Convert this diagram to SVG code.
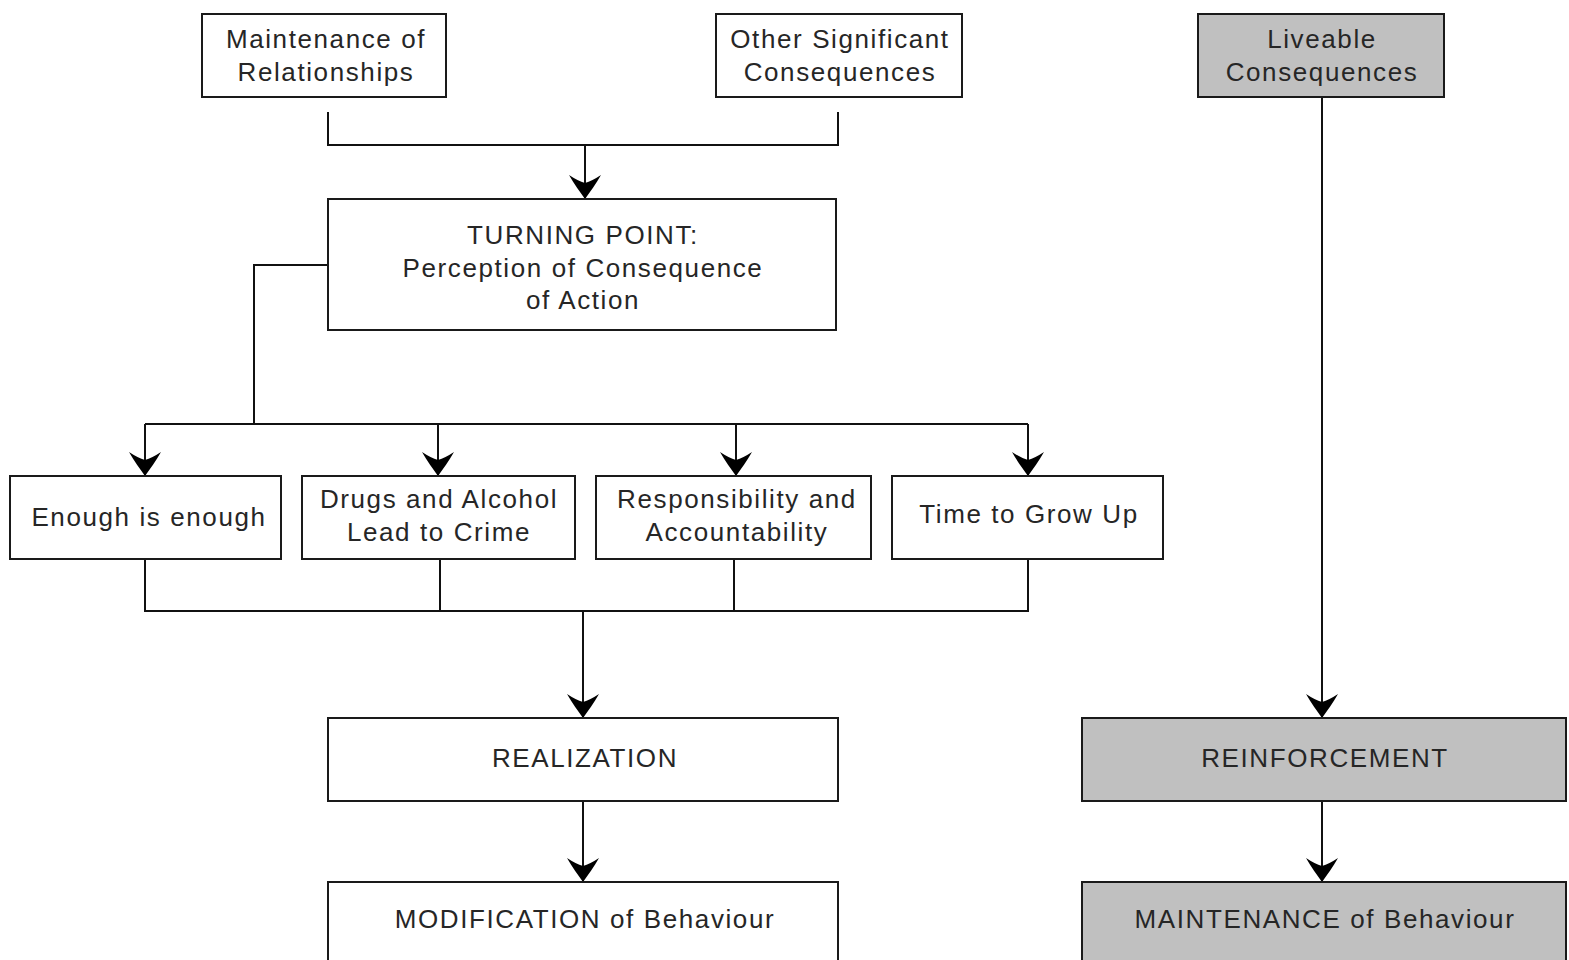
<svg xmlns="http://www.w3.org/2000/svg" width="1569" height="960" viewBox="0 0 1569 960">
<defs>
<style>
.box{fill:#fff;stroke:#1a1a1a;stroke-width:2}
.gray{fill:#c0c0c0}
.t{font-family:"Liberation Sans",Arial,sans-serif;font-size:26px;fill:#262626;text-anchor:middle;letter-spacing:1.6px}
.c{fill:none;stroke:#111;stroke-width:2}
</style>
<marker id="ah" markerUnits="userSpaceOnUse" markerWidth="26" markerHeight="36" viewBox="0 -18 26 36" refX="24" refY="0" orient="auto">
<path d="M24,0 C17,-5 9,-11 0,-16 Q6,-7 8,0 Q6,7 0,16 C9,11 17,5 24,0 Z" fill="#000"/>
</marker>
</defs>
<rect width="1569" height="960" fill="#fff"/>
<g id="connectors">
<path class="c" d="M328,112 V145 H838 V112"/>
<path class="c" d="M585,145 V199" marker-end="url(#ah)"/>
<path class="c" d="M328,265 H254 V424"/>
<path class="c" d="M145,424 H1028"/>
<path class="c" d="M145,424 V476" marker-end="url(#ah)"/>
<path class="c" d="M438,424 V476" marker-end="url(#ah)"/>
<path class="c" d="M736,424 V476" marker-end="url(#ah)"/>
<path class="c" d="M1028,424 V476" marker-end="url(#ah)"/>
<path class="c" d="M145,559 V611 H1028 V559"/>
<path class="c" d="M440,559 V611"/>
<path class="c" d="M734,559 V611"/>
<path class="c" d="M583,611 V718" marker-end="url(#ah)"/>
<path class="c" d="M583,801 V882" marker-end="url(#ah)"/>
<path class="c" d="M1322,97 V718" marker-end="url(#ah)"/>
<path class="c" d="M1322,801 V882" marker-end="url(#ah)"/>
</g>
<g id="n-maint-rel"><rect class="box" x="202" y="14" width="244" height="83"/><text class="t" x="326" y="48">Maintenance of</text><text class="t" x="326" y="81">Relationships</text></g>
<g id="n-other"><rect class="box" x="716" y="14" width="246" height="83"/><text class="t" x="840" y="48">Other Significant</text><text class="t" x="840" y="81">Consequences</text></g>
<g id="n-liveable"><rect class="box gray" x="1198" y="14" width="246" height="83"/><text class="t" x="1322" y="48">Liveable</text><text class="t" x="1322" y="81">Consequences</text></g>
<g id="n-turning"><rect class="box" x="328" y="199" width="508" height="131"/><text class="t" x="583" y="244">TURNING POINT:</text><text class="t" x="583" y="277">Perception of Consequence</text><text class="t" x="583" y="309">of Action</text></g>
<g id="n-enough"><rect class="box" x="10" y="476" width="271" height="83"/><text class="t" x="149" y="526">Enough is enough</text></g>
<g id="n-drugs"><rect class="box" x="302" y="476" width="273" height="83"/><text class="t" x="439" y="508">Drugs and Alcohol</text><text class="t" x="439" y="541">Lead to Crime</text></g>
<g id="n-resp"><rect class="box" x="596" y="476" width="275" height="83"/><text class="t" x="737" y="508">Responsibility and</text><text class="t" x="737" y="541">Accountability</text></g>
<g id="n-time"><rect class="box" x="892" y="476" width="271" height="83"/><text class="t" x="1029" y="523">Time to Grow Up</text></g>
<g id="n-realization"><rect class="box" x="328" y="718" width="510" height="83"/><text class="t" x="585" y="767">REALIZATION</text></g>
<g id="n-modification"><rect class="box" x="328" y="882" width="510" height="90"/><text class="t" x="585" y="928">MODIFICATION of Behaviour</text></g>
<g id="n-reinforcement"><rect class="box gray" x="1082" y="718" width="484" height="83"/><text class="t" x="1325" y="767">REINFORCEMENT</text></g>
<g id="n-maintenance"><rect class="box gray" x="1082" y="882" width="484" height="90"/><text class="t" x="1325" y="928">MAINTENANCE of Behaviour</text></g>
</svg>
